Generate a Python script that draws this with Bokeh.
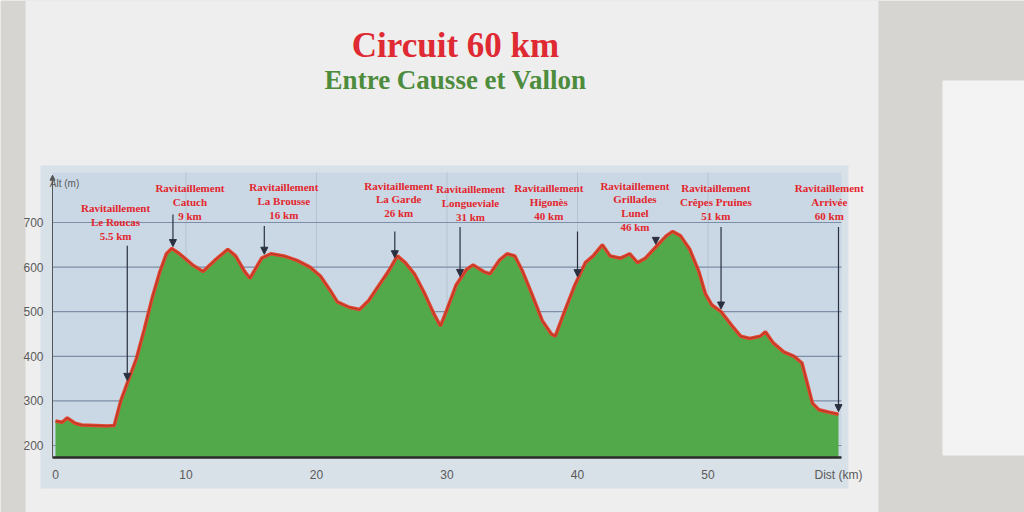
import numpy as np
from bokeh.plotting import figure
from bokeh.models import (BoxAnnotation, Label, Arrow, NormalHead, ColumnDataSource,
                          FixedTicker, Range1d, LinearAxis)
from bokeh.core.properties import value
from bokeh.embed import file_html
from bokeh.resources import INLINE

# Elevation profile of the 60 km circuit
dist_km = [0.0, 0.5, 0.9, 1.5, 2.0, 3.0, 4.0, 4.5, 5.0, 5.5, 6.2, 6.8, 7.4, 8.0, 8.5, 8.9,
           9.5, 10.5, 11.3, 12.2, 13.2, 13.8, 14.5, 14.9, 15.3, 15.8, 16.5, 17.5, 18.5,
           19.5, 20.3, 21.0, 21.6, 22.5, 23.3, 24.0, 24.8, 25.5, 26.2, 26.8, 27.5, 28.3,
           29.0, 29.5, 30.0, 30.7, 31.5, 32.0, 32.8, 33.3, 34.0, 34.6, 35.2, 35.8, 36.5,
           37.3, 38.0, 38.3, 39.0, 39.8, 40.6, 41.2, 41.9, 42.5, 43.3, 44.0, 44.6, 45.2,
           46.0, 46.8, 47.3, 47.9, 48.6, 49.3, 49.8, 50.3, 51.0, 51.8, 52.5, 53.2, 54.0,
           54.4, 55.0, 55.8, 56.6, 57.2, 57.6, 58.0, 58.5, 59.2, 60.0]
alt_m = [255, 252, 262, 250, 246, 245, 244, 245, 300, 340, 395, 460, 530, 590, 630, 642,
         630, 605, 590, 615, 640, 625, 590, 575, 595, 620, 630, 625, 615,
         600, 580, 550, 522, 510, 505, 525, 560, 590, 625, 610, 585, 540,
         495, 468, 505, 560, 595, 605, 590, 585, 615, 630, 625, 590, 540,
         480, 450, 445, 500, 560, 610, 625, 650, 625, 620, 630, 610, 620,
         645, 670, 680, 670, 640, 590, 540, 515, 500, 470, 445, 440, 445,
         455, 430, 410, 400, 385, 340, 295, 280, 275, 270]

# Refreshment stops
stop_km = [5.5, 9, 16, 26, 31, 40, 46, 51, 60]
stop_names = ["Le Roucas", "Catuch", "La Brousse", "La Garde", "Longueviale",
              "Higonès", "Grillades\nLunel", "Crêpes Pruines", "Arrivée"]

x_ticks = [0, 10, 20, 30, 40, 50, 60]
x_tick_labels = ["0", "10", "20", "30", "40", "50", "Dist (km)"]
y_ticks = [200, 300, 400, 500, 600, 700]

# page geometry: the frame fills the canvas, so everything is laid out in data units
W, H = 1024, 512
KM_PX, M_PX = 13.05, 0.446          # pixels per km / per metre
X0 = -55 / KM_PX                     # km at the left canvas edge
YT = 700 + 222 / M_PX                # metres at the top canvas edge
def kx(px): return X0 + px / KM_PX
def my(py): return YT - py / M_PX

Y0, Y1 = my(457), my(172)            # chart floor and ceiling
XL, XR = kx(52), kx(841)

# label placement (km of label centre, elevation of label top, elevation where arrow starts)
label_x = [4.6, 10.3, 17.5, 26.3, 31.8, 37.8, 44.4, 50.6, 59.3]
label_top = [745, 790, 792, 796, 788, 790, 796, 790, 790]
arrow_from = [648, 718, 692, 680, 690, 680, 665, 690, 690]

p = figure(width=W, height=H, output_backend="svg", toolbar_location=None,
           x_range=Range1d(kx(0), kx(W)), y_range=Range1d(my(H), my(0)),
           x_axis_type=None, y_axis_type=None, min_border=0)
p.background_fill_color = "#d7d5d1"
p.border_fill_color = "#d7d5d1"
p.outline_line_color = None
p.grid.visible = False

# paper sheet, chart panel, plotting area, second sheet on the right
for l, r, t, b, c in [(25, 878, 0, 512, "#eeeeee"), (40, 848, 165, 488, "#d8e0e8"),
                      (52, 841, 172, 457, "#cad7e4"), (942, 1024, 80, 455, "#f3f3f3")]:
    p.add_layout(BoxAnnotation(left=kx(l), right=kx(r), top=my(t), bottom=my(b),
                               fill_color=c, fill_alpha=1, line_color=None, level="image"))

# grid lines limited to the plotting area
v_grid = [10, 20, 30, 40, 50]
p.segment(x0=v_grid, x1=v_grid, y0=Y0, y1=Y1, line_color="#b6c3d1", line_width=1)
p.segment(x0=XL, x1=XR, y0=y_ticks, y1=y_ticks, line_color="#7d8ea6", line_width=1.2)

# axes placed inside the canvas
xax = LinearAxis(fixed_location=Y0, bounds=(XL, XR),
                 ticker=FixedTicker(ticks=x_ticks),
                 major_label_overrides={t: s for t, s in zip(x_ticks, x_tick_labels)})
yax = LinearAxis(fixed_location=XL, bounds=(Y0, 805),
                 ticker=FixedTicker(ticks=y_ticks))
p.add_layout(xax, "below")
p.add_layout(yax, "left")
for ax in (xax, yax):
    ax.major_label_text_font = "Liberation Sans"
    ax.major_label_text_font_size = "12px"
    ax.major_label_text_color = "#5a5a5a"
    ax.major_tick_line_color = None
    ax.minor_tick_line_color = None
xax.axis_line_color = "#2b2b2b"
xax.axis_line_width = 2.5
xax.major_label_standoff = 4
yax.axis_line_color = "#555555"
yax.axis_line_width = 1
yax.major_label_standoff = 3

src = ColumnDataSource(dict(x=dist_km, y=alt_m))
p.varea(x="x", y1=Y0, y2="y", source=src, fill_color="#52a949")
p.line(x="x", y="y", source=src, line_color="#e5442e", line_width=3.5)
p.line(x="x", y="y", source=src, line_color="#6b2a1e", line_width=0.8, line_alpha=0.6)

# altitude axis arrow and name
p.add_layout(Arrow(x_start=XL, y_start=790, x_end=XL, y_end=806,
                   line_color="#555555", line_width=1,
                   end=NormalHead(size=5, fill_color="#555555", line_color="#555555")))
p.add_layout(Label(x=kx(64), y=my(183), text="Alt (m)", text_font="Liberation Sans",
                   text_font_size="10px", text_color="#5a5a5a", text_align="center",
                   text_baseline="middle"))

# stop labels and arrows
lab_text = ["Ravitaillement\n%s\n%s km" % (n, ("%g" % k)) for n, k in zip(stop_names, stop_km)]
p.text(x=label_x, y=label_top, text=lab_text, text_font=value("Liberation Serif"),
       text_font_style="bold", text_font_size="11px", text_color="#e3262e",
       text_align="center", text_baseline="top", text_line_height=1.15)
tips = np.interp(stop_km, dist_km, alt_m) + 6
for k, a0, a1 in zip(stop_km, arrow_from, tips):
    p.add_layout(Arrow(x_start=k, y_start=a0, x_end=k, y_end=float(a1),
                       line_color="#2a3040", line_width=1.2,
                       end=NormalHead(size=7, fill_color="#2a3040", line_color="#2a3040")))

# headings
p.add_layout(Label(x=kx(455), y=my(45), text="Circuit 60 km",
                   text_font="Liberation Serif", text_font_style="bold", text_font_size="35px",
                   text_color="#df2a33", text_align="center", text_baseline="middle"))
p.add_layout(Label(x=kx(455), y=my(79), text="Entre Causse et Vallon",
                   text_font="Liberation Serif", text_font_style="bold",
                   text_font_size="27px", text_color="#4d8c3c",
                   text_align="center", text_baseline="middle"))

open("out.html", "w").write(file_html(p, INLINE))
